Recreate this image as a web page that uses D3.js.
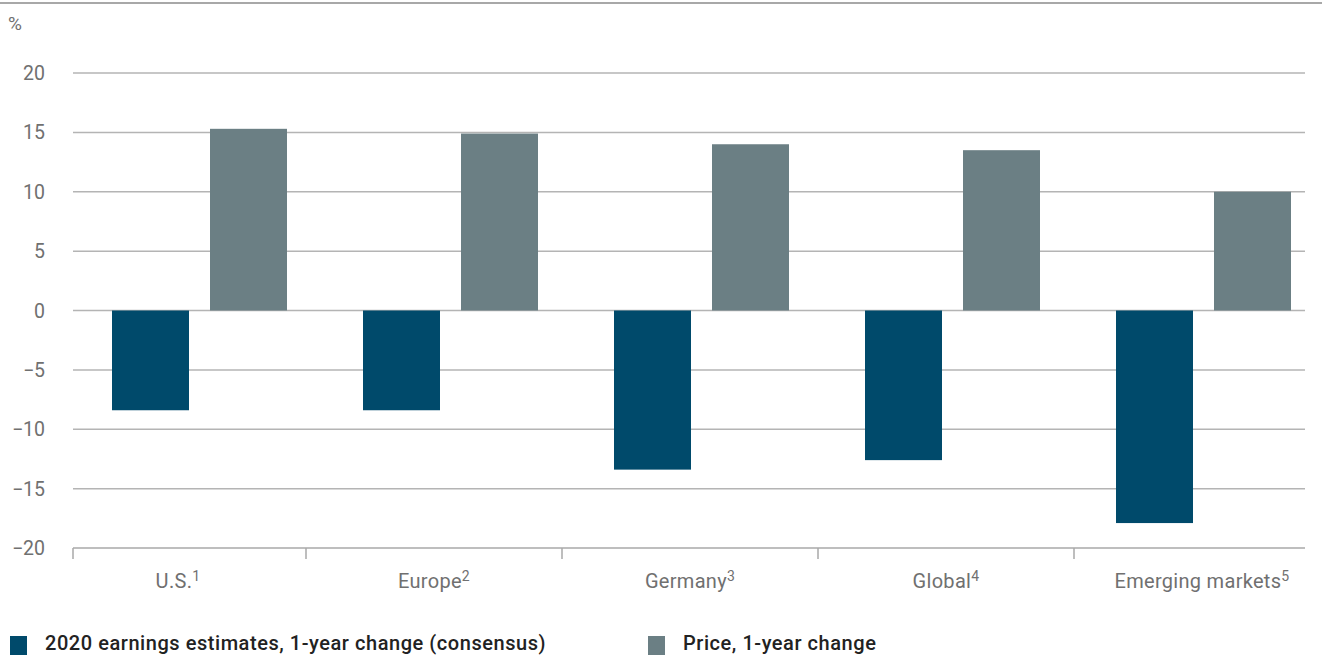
<!DOCTYPE html>
<html><head><meta charset="utf-8">
<script src="https://cdn.jsdelivr.net/npm/d3@7"></script>
<style>
html,body{margin:0;padding:0;background:#fff;overflow:hidden}
svg{display:block}
text{font-family:Roboto,"Liberation Sans",sans-serif}
</style></head><body>
<svg id="c" width="1322" height="655"></svg>
<script>
const categories = ["U.S.", "Europe", "Germany", "Global", "Emerging markets"];
const footnotes = ["1", "2", "3", "4", "5"];
const seriesNames = ["2020 earnings estimates, 1-year change (consensus)", "Price, 1-year change"];
const earnings = [-8.4, -8.4, -13.4, -12.6, -17.9];
const price = [15.3, 14.9, 14.0, 13.5, 10.0];
const yTicks = [-20, -15, -10, -5, 0, 5, 10, 15, 20];
const colors = ["#004a6b", "#6b7f84"];

const svg = d3.select("#c");
const plotL = 73, plotR = 1305;
const y = d3.scaleLinear().domain([-20, 20]).range([548, 73]);
const xGroup = d3.scaleBand().domain(categories).range([74, 1329]).padding(0);
const xInner = d3.scaleBand().domain([0, 1]).range([0, xGroup.bandwidth()]).paddingInner(0.2143).paddingOuter(0.3878);
const xAxisBand = d3.scaleBand().domain(categories).range([50, 1330]).padding(0);

// top rule
svg.append("line").attr("x1", 0).attr("x2", 1322).attr("y1", 3).attr("y2", 3)
  .attr("stroke", "#a8a8a8").attr("stroke-width", 2);

// % label
svg.append("text").attr("x", 8).attr("y", 30).attr("fill", "#6f6f6f").attr("font-size", 19).text("%");

// gridlines
const grid = svg.append("g");
yTicks.filter(t => t > -20).forEach(t => {
  grid.append("line").attr("x1", plotL).attr("x2", plotR).attr("y1", y(t)).attr("y2", y(t))
    .attr("stroke", "#b4b4b4").attr("stroke-width", 1.5);
});

// y tick labels
svg.append("g").selectAll("text").data(yTicks).join("text")
  .attr("x", 45).attr("y", d => y(d) + 7).attr("text-anchor", "end")
  .attr("fill", "#707070").attr("font-size", 19.5)
  .text(d => d < 0 ? "\u2212" + Math.abs(d) : d);

// bars
const data = categories.map((c, i) => ({c, vals: [earnings[i], price[i]]}));
const g = svg.append("g");
data.forEach(d => {
  d.vals.forEach((v, j) => {
    g.append("rect")
      .attr("x", xGroup(d.c) + xInner(j))
      .attr("width", xInner.bandwidth())
      .attr("y", y(Math.max(0, v)))
      .attr("height", Math.abs(y(v) - y(0)))
      .attr("fill", colors[j]);
  });
});

// x axis line
svg.append("line").attr("x1", plotL).attr("x2", plotR).attr("y1", y(-20)).attr("y2", y(-20))
  .attr("stroke", "#a8a8a8").attr("stroke-width", 1.5);
// ticks
const tickXs = [plotL].concat(categories.slice(1).map(c => xAxisBand(c)));
svg.append("g").selectAll("line").data(tickXs).join("line")
  .attr("x1", d => d).attr("x2", d => d).attr("y1", y(-20)).attr("y2", y(-20) + 11)
  .attr("stroke", "#a8a8a8").attr("stroke-width", 1.5);

// category labels
const lab = svg.append("g").selectAll("text").data(categories).join("text")
  .attr("x", d => xAxisBand(d) + xAxisBand.bandwidth() / 2)
  .attr("y", 588).attr("text-anchor", "middle").attr("fill", "#707070")
  .attr("font-size", 20).attr("letter-spacing", 0.3);
lab.append("tspan").text(d => d);
lab.append("tspan").attr("dy", -7).attr("font-size", 14).text((d, i) => footnotes[i]);

// legend
const legX = [10, 648];
seriesNames.forEach((s, i) => {
  svg.append("rect").attr("x", legX[i]).attr("y", 636).attr("width", 17).attr("height", 19).attr("fill", colors[i]);
  svg.append("text").attr("x", legX[i] + 35).attr("y", 650).attr("fill", "#222")
    .attr("font-size", 20).attr("letter-spacing", 0.55).attr("font-weight", 500).text(s);
});
</script></body></html>
